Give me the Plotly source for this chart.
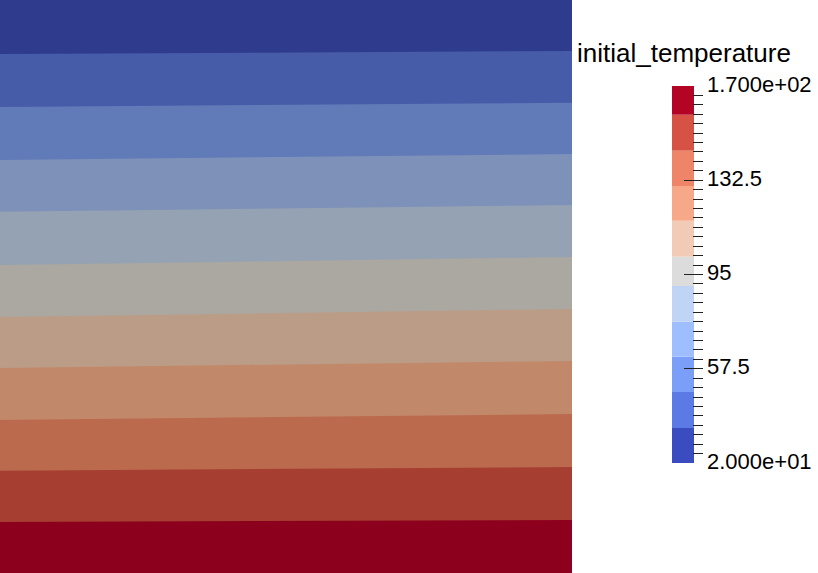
import plotly.graph_objects as go

# ---- field: 11 temperature bands, isotherm depths read at left and right edges ----
domain_width = 572.0
domain_depth = 573.0
# interior band boundaries (depth from top), left edge and right edge
boundary_depth_left = [54, 107, 160, 211.7, 265, 317, 368, 420, 470.7, 522]
boundary_depth_right = [51, 102.7, 154, 205, 257, 309, 361, 414, 467, 520]
# shaded band colours as rendered (top band = coldest)
band_colors = ["#2f3b8d", "#465ca8", "#617bb8", "#7e91b9", "#95a2b3", "#aaa8a0",
               "#bb9c86", "#c2886a", "#bb6a4e", "#a63f31", "#8c001e"]

# ---- colour legend ----
legend_title = "initial_temperature"
t_min, t_max = 20.0, 170.0
legend_edges = [20.0, 33.92, 48.25, 62.3, 76.22, 90.42, 102.08, 116.4, 130.21, 144.26, 158.58, 170.0]
legend_colors = ["#3b4cc0", "#5b7ae5", "#7b9ff9", "#9ebeff", "#c0d4f5", "#dddcdc",
                 "#f2cbb7", "#f7a889", "#ee8468", "#d65244", "#b40426"]
tick_values = [20, 57.5, 95, 132.5, 170]
tick_labels = ["2.000e+01", "57.5", "95", "132.5", "1.700e+02"]
minor_step = 3.75

W, H = 818, 573

fig = go.Figure()

tops_left = [0.0] + boundary_depth_left
tops_right = [0.0] + boundary_depth_right
for tl, tr, col in zip(tops_left, tops_right, band_colors):
    fig.add_trace(go.Scatter(
        x=[0, domain_width, domain_width, 0, 0],
        y=[tl, tr, domain_depth, domain_depth, tl],
        mode="lines", fill="toself", fillcolor=col,
        line=dict(width=0, color=col), hoverinfo="skip", showlegend=False,
        xaxis="x", yaxis="y"))

fig.add_trace(go.Bar(
    x=[0] * len(legend_colors),
    base=legend_edges[:-1],
    y=[b - a for a, b in zip(legend_edges[:-1], legend_edges[1:])],
    marker=dict(color=legend_colors, line=dict(width=0)),
    width=1.0, showlegend=False, hoverinfo="skip",
    xaxis="x2", yaxis="y2"))

bar_top_px, bar_bot_px = 86, 463
fig.update_layout(
    width=W, height=H,
    margin=dict(l=0, r=0, t=0, b=0, pad=0),
    paper_bgcolor="white", plot_bgcolor="white",
    barmode="overlay",
    font=dict(family="Liberation Sans, Arial, sans-serif", color="black"),
    xaxis=dict(domain=[0, domain_width / W], range=[0, domain_width],
               visible=False, fixedrange=True, automargin=False),
    yaxis=dict(domain=[0, 1], range=[domain_depth, 0],
               visible=False, fixedrange=True, automargin=False),
    xaxis2=dict(domain=[672 / W, 694 / W], range=[-0.5, 0.5], visible=False,
                anchor="y2", automargin=False),
    yaxis2=dict(domain=[(H - bar_bot_px) / H, (H - bar_top_px) / H],
                range=[t_min, t_max], anchor="free", position=703 / W,
                side="right", showgrid=False, zeroline=False, showline=False,
                automargin=False, ticklabelstandoff=3, ticklabelshift=-2,
                tickmode="array", tickvals=tick_values, ticktext=tick_labels,
                ticks="inside", ticklen=19, tickwidth=1, tickcolor="#222",
                tickfont=dict(size=22, color="black"),
                minor=dict(ticks="inside", ticklen=10, tickwidth=1,
                           tickcolor="#222", tickmode="linear",
                           tick0=t_min, dtick=minor_step)),
    annotations=[dict(text=legend_title, x=575 / W, y=(H - 53) / H,
                      xref="paper", yref="paper", xanchor="left",
                      yanchor="middle", showarrow=False,
                      font=dict(size=26, color="black"))],
)

fig.write_html(
    "out.html",
    config={"displayModeBar": False, "responsive": False},
    post_script="document.body.style.margin='0';document.body.style.overflow='hidden';",
)
